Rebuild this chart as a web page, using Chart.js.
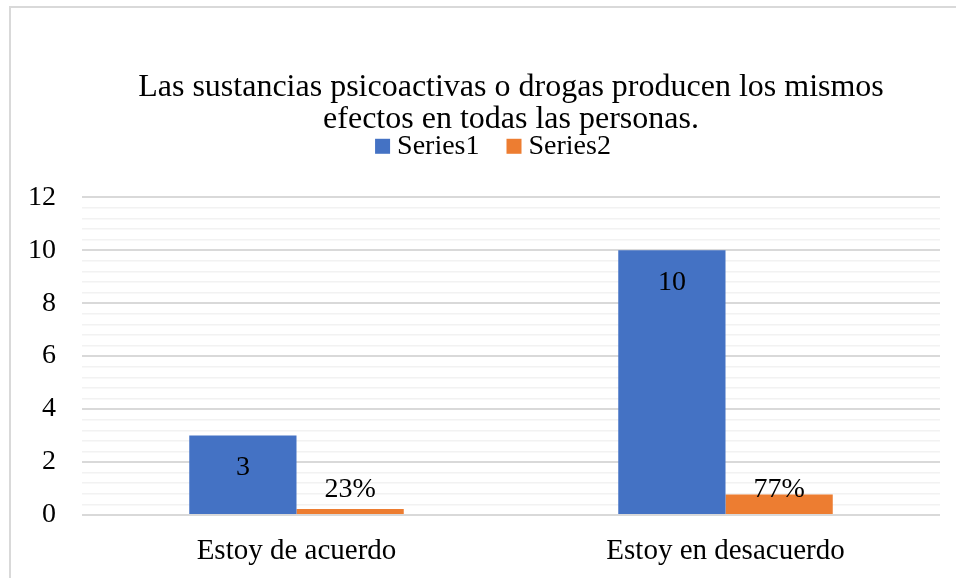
<!DOCTYPE html>
<html>
<head>
<meta charset="utf-8">
<script src="https://cdn.jsdelivr.net/npm/chart.js@4.4.1/dist/chart.umd.min.js"></script>
<style>
  body { margin: 0; background: #fff; }
  #marco { position: absolute; left: 9px; top: 6px; width: 1000px; height: 600px; border-top: 2px solid #d9d9d9; border-left: 2px solid #d9d9d9; }
  #grafico { position: absolute; left: 0; top: 0; }
</style>
</head>
<body>
<div id="marco"></div>
<canvas id="grafico" width="956" height="578"></canvas>
<script>
const categorias = ['Estoy de acuerdo', 'Estoy en desacuerdo'];
const serie1 = [3, 10];
const serie2 = [0.23, 0.77];
const nombres_series = ['Series1', 'Series2'];
const colores = ['#4472c4', '#ed7d31'];
const titulo = ['Las sustancias psicoactivas o drogas producen los mismos', 'efectos en todas las personas.'];

const fuente = "'Liberation Serif', 'Times New Roman', serif";

// etiquetas de datos como en Excel
const etiquetas = {
    id: 'etiquetas',
    afterDatasetsDraw(chart) {
        const c = chart.ctx;
        const y = chart.scales.y;
        c.save();
        c.font = '28px ' + fuente;
        c.fillStyle = '#000';
        c.textAlign = 'center';
        c.textBaseline = 'middle';
        chart.getDatasetMeta(0).data.forEach((bar, i) => {
            c.fillText(String(serie1[i]), bar.x, bar.y + 32);
        });
        chart.getDatasetMeta(1).data.forEach((bar, i) => {
            c.fillText(Math.round(serie2[i] * 100) + '%', bar.x, y.getPixelForValue(0.95));
        });
        c.restore();
    }
};

// leyenda estilo Excel (cuadro pegado al texto)
const leyenda = {
    id: 'leyenda',
    afterDraw(chart) {
        const c = chart.ctx;
        const area = chart.chartArea;
        c.save();
        c.font = '28px ' + fuente;
        c.textBaseline = 'middle';
        c.textAlign = 'left';
        const caja = 15, hueco = 7, sep = 27;
        const anchos = nombres_series.map(n => c.measureText(n).width);
        let total = anchos.reduce((a, b) => a + b, 0) + nombres_series.length * (caja + hueco) + sep * (nombres_series.length - 1);
        let x = (area.left + area.right) / 2 - 18 - total / 2;
        const yc = area.top - 51;
        nombres_series.forEach((n, i) => {
            c.fillStyle = colores[i];
            c.fillRect(x, yc - caja / 2, caja, caja);
            c.fillStyle = '#000';
            c.fillText(n, x + caja + hueco, yc);
            x += caja + hueco + anchos[i] + sep;
        });
        c.restore();
    }
};

const esMayor = v => Math.abs(v / 2 - Math.round(v / 2)) < 1e-6;

const grafico = new Chart(document.getElementById('grafico'), {
    type: 'bar',
    data: {
        labels: categorias,
        datasets: [{
            label: nombres_series[0],
            data: serie1,
            backgroundColor: colores[0]
        }, {
            label: nombres_series[1],
            data: serie2,
            backgroundColor: colores[1]
        }]
    },
    options: {
        responsive: false,
        animation: false,
        datasets: { bar: { barPercentage: 1, categoryPercentage: 0.5 } },
        layout: { padding: { top: 71, left: 2, right: 16, bottom: 0 } },
        plugins: {
            title: {
                display: true,
                fullSize: false,
                text: titulo,
                color: '#000',
                font: { family: fuente, size: 32, weight: 'normal', lineHeight: 1.02 },
                padding: { top: 0, bottom: 61 }
            },
            legend: { display: false },
            tooltip: { enabled: false }
        },
        scales: {
            x: {
                grid: { display: false, drawTicks: true, tickLength: 9 },
                border: { display: false },
                ticks: { color: '#000', font: { family: fuente, size: 29 }, padding: 9.6 }
            },
            y: {
                min: 0,
                max: 12,
                border: { display: false },
                grid: {
                    drawTicks: false,
                    color: ctx => esMayor(ctx.tick.value) ? '#d9d9d9' : '#f2f2f2',
                    lineWidth: ctx => esMayor(ctx.tick.value) ? 2 : 1.5
                },
                ticks: {
                    stepSize: 0.4,
                    autoSkip: false,
                    color: '#000',
                    font: { family: fuente, size: 28 },
                    padding: 26,
                    callback: v => esMayor(v) ? Math.round(v) : ''
                }
            }
        }
    },
    plugins: [etiquetas, leyenda]
});
</script>
</body>
</html>
